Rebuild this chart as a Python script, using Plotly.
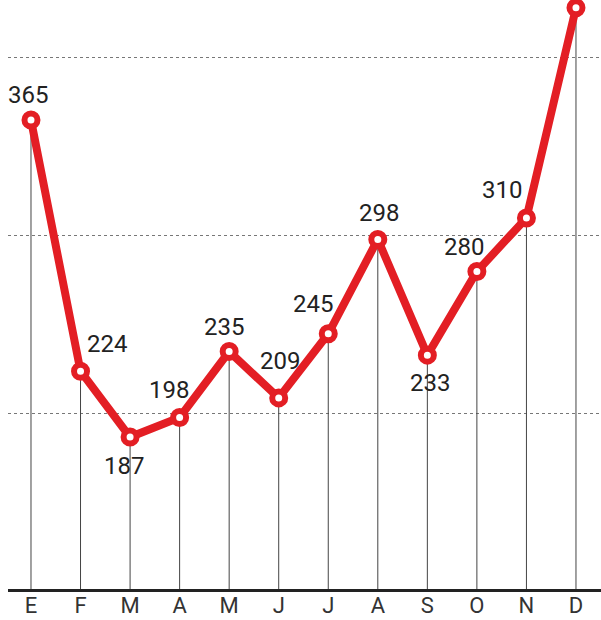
import plotly.graph_objects as go

months = ["E", "F", "M", "A", "M", "J", "J", "A", "S", "O", "N", "D"]
values = [365, 224, 187, 198, 235, 209, 245, 298, 233, 280, 310, 428]
# labels visible in the picture (the December label lies above the frame)
labels = ["365", "224", "187", "198", "235", "209", "245", "298", "233", "280", "310"]
# label offsets in pixels (dx, dy) relative to each point
label_dx = [-3, 26, -6, -11, -5, 1, -15, 1, 3, -13, -24]
label_dy = [25, 27, -29, 27, 25, 37, 30, 26, -28, 24, 28]

y_base = 101.7
y_top = 432.4
idx = list(range(len(months)))

RED = "#e31e24"

fig = go.Figure()

# drop lines
dx, dy = [], []
for i, v in zip(idx, values):
    dx += [i, i, None]
    dy += [v, y_base, None]
fig.add_trace(go.Scatter(x=dx, y=dy, mode="lines",
                         line=dict(color="#444444", width=1),
                         hoverinfo="skip", showlegend=False))

fig.add_trace(go.Scatter(
    x=idx, y=values, mode="lines+markers",
    line=dict(color=RED, width=8),
    marker=dict(size=13, color="white", line=dict(color=RED, width=6)),
    cliponaxis=False, showlegend=False))

for i, v, t, ox, oy in zip(idx, values, labels, label_dx, label_dy):
    fig.add_annotation(x=i, y=v, text=t, showarrow=False,
                       xshift=ox, yshift=oy,
                       font=dict(family="Roboto", size=24, color="#222222"))

fig.update_layout(
    width=601, height=620,
    margin=dict(l=8, r=0, t=0, b=31, autoexpand=False),
    paper_bgcolor="white", plot_bgcolor="white",
    xaxis=dict(range=[-0.464, 11.505], tickvals=idx, ticktext=months,
               showgrid=False, zeroline=False, showline=True,
               linecolor="#222222", linewidth=3, ticks="",
               tickfont=dict(family="Roboto", size=22, color="#333333"),
               ticklabelstandoff=-5,
               automargin=False, fixedrange=True),
    yaxis=dict(range=[y_base, y_top], tickvals=[200, 300, 400],
               showticklabels=False, showgrid=True, gridcolor="#777777",
               griddash="3px,3px", gridwidth=1, zeroline=False,
               showline=False, ticks="", automargin=False, fixedrange=True),
)

fig.write_html("out.html", config={"displayModeBar": False},
               post_script="document.body.style.margin='0px';document.body.style.overflow='hidden';")
